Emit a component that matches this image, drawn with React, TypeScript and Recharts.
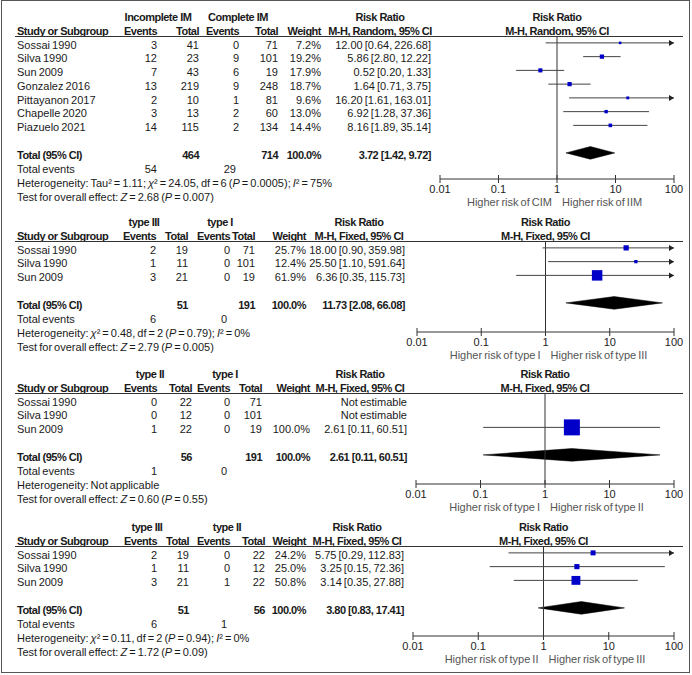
import React from 'react';
import { ComposedChart, XAxis, YAxis, Line, Scatter, Area, ReferenceLine } from 'recharts';

// ── Panel 1: incomplete vs complete IM (random effects) ─────────────────────
const STUDIES_1 = ['Sossai 1990', 'Silva 1990', 'Sun 2009', 'Gonzalez 2016', 'Pittayanon 2017', 'Chapelle 2020', 'Piazuelo 2021'];
const EVENTS_A_1 = [3, 12, 7, 13, 2, 3, 14];
const TOTAL_A_1 = [41, 23, 43, 219, 10, 13, 115];
const EVENTS_B_1 = [0, 9, 6, 9, 1, 2, 2];
const TOTAL_B_1 = [71, 101, 19, 248, 81, 60, 134];
const WEIGHT_1 = [7.2, 19.2, 17.9, 18.7, 9.6, 13.0, 14.4];
const RR_1 = [12.0, 5.86, 0.52, 1.64, 16.2, 6.92, 8.16];
const LO_1 = [0.64, 2.8, 0.2, 0.71, 1.61, 1.28, 1.89];
const HI_1 = [226.68, 12.22, 1.33, 3.75, 163.01, 37.36, 35.14];
const POOLED_1 = [3.72, 1.42, 9.72]; // rr, lo, hi
const SUMS_1 = [464, 714, 54, 29]; // totalA, totalB, eventsA, eventsB

// ── Panel 2: type III vs type I ─────────────────────────────────────────────
const STUDIES_2 = ['Sossai 1990', 'Silva 1990', 'Sun 2009'];
const EVENTS_A_2 = [2, 1, 3];
const TOTAL_A_2 = [19, 11, 21];
const EVENTS_B_2 = [0, 0, 0];
const TOTAL_B_2 = [71, 101, 19];
const WEIGHT_2 = [25.7, 12.4, 61.9];
const RR_2 = [18.0, 25.5, 6.36];
const LO_2 = [0.9, 1.1, 0.35];
const HI_2 = [359.98, 591.64, 115.73];
const POOLED_2 = [11.73, 2.08, 66.08];
const SUMS_2 = [51, 191, 6, 0];

// ── Panel 3: type II vs type I ──────────────────────────────────────────────
const STUDIES_3 = ['Sossai 1990', 'Silva 1990', 'Sun 2009'];
const EVENTS_A_3 = [0, 0, 1];
const TOTAL_A_3 = [22, 12, 22];
const EVENTS_B_3 = [0, 0, 0];
const TOTAL_B_3 = [71, 101, 19];
const WEIGHT_3 = [null, null, 100.0];
const RR_3 = [null, null, 2.61];
const LO_3 = [null, null, 0.11];
const HI_3 = [null, null, 60.51];
const POOLED_3 = [2.61, 0.11, 60.51];
const SUMS_3 = [56, 191, 1, 0];

// ── Panel 4: type III vs type II ────────────────────────────────────────────
const STUDIES_4 = ['Sossai 1990', 'Silva 1990', 'Sun 2009'];
const EVENTS_A_4 = [2, 1, 3];
const TOTAL_A_4 = [19, 11, 21];
const EVENTS_B_4 = [0, 0, 1];
const TOTAL_B_4 = [22, 12, 22];
const WEIGHT_4 = [24.2, 25.0, 50.8];
const RR_4 = [5.75, 3.25, 3.14];
const LO_4 = [0.29, 0.15, 0.35];
const HI_4 = [112.83, 72.36, 27.88];
const POOLED_4 = [3.8, 0.83, 17.41];
const SUMS_4 = [51, 56, 6, 1];

const TICKS = [0.01, 0.1, 1, 10, 100];
const TICK_LABELS = ['0.01', '0.1', '1', '10', '100'];

const GROUPS = [
  ['Incomplete IM', 'Complete IM'],
  ['type III', 'type I'],
  ['type II', 'type I'],
  ['type III', 'type II'],
];
const METHODS = ['M-H, Random, 95% CI', 'M-H, Fixed, 95% CI', 'M-H, Fixed, 95% CI', 'M-H, Fixed, 95% CI'];
const FAVOURS = [
  ['Higher risk of CIM', 'Higher risk of IIM'],
  ['Higher risk of type I', 'Higher risk of type III'],
  ['Higher risk of type I', 'Higher risk of type II'],
  ['Higher risk of type II', 'Higher risk of type III'],
];

const italic = (s: string) => <i>{s}</i>;
const HETERO = [
  <>Heterogeneity: Tau² = 1.11; {italic('χ')}² = 24.05, df = 6 ({italic('P')} = 0.0005); {italic('I')}² = 75%</>,
  <>Heterogeneity: {italic('χ')}² = 0.48, df = 2 ({italic('P')} = 0.79); {italic('I')}² = 0%</>,
  <>Heterogeneity: Not applicable</>,
  <>Heterogeneity: {italic('χ')}² = 0.11, df = 2 ({italic('P')} = 0.94); {italic('I')}² = 0%</>,
];
const OVERALL = [
  <>Test for overall effect: {italic('Z')} = 2.68 ({italic('P')} = 0.007)</>,
  <>Test for overall effect: {italic('Z')} = 2.79 ({italic('P')} = 0.005)</>,
  <>Test for overall effect: {italic('Z')} = 0.60 ({italic('P')} = 0.55)</>,
  <>Test for overall effect: {italic('Z')} = 1.72 ({italic('P')} = 0.09)</>,
];

const PANELS = [
  { studies: STUDIES_1, ea: EVENTS_A_1, ta: TOTAL_A_1, eb: EVENTS_B_1, tb: TOTAL_B_1, w: WEIGHT_1, rr: RR_1, lo: LO_1, hi: HI_1, pooled: POOLED_1, sums: SUMS_1 },
  { studies: STUDIES_2, ea: EVENTS_A_2, ta: TOTAL_A_2, eb: EVENTS_B_2, tb: TOTAL_B_2, w: WEIGHT_2, rr: RR_2, lo: LO_2, hi: HI_2, pooled: POOLED_2, sums: SUMS_2 },
  { studies: STUDIES_3, ea: EVENTS_A_3, ta: TOTAL_A_3, eb: EVENTS_B_3, tb: TOTAL_B_3, w: WEIGHT_3, rr: RR_3, lo: LO_3, hi: HI_3, pooled: POOLED_3, sums: SUMS_3 },
  { studies: STUDIES_4, ea: EVENTS_A_4, ta: TOTAL_A_4, eb: EVENTS_B_4, tb: TOTAL_B_4, w: WEIGHT_4, rr: RR_4, lo: LO_4, hi: HI_4, pooled: POOLED_4, sums: SUMS_4 },
];

// layout (pixels) per panel
const LAYOUT = [
  { lineY: 36, axisY: 179, x0: 440, cols: [157, 199, 239, 278, 321, 431], grp: [158, 238], rrC: 380 },
  { lineY: 241, axisY: 332, x0: 417, cols: [156, 188, 230, 255, 306, 405], grp: [144, 220], rrC: 359 },
  { lineY: 393, axisY: 484, x0: 416, cols: [157, 192, 230, 262, 310, 407], grp: [150, 225], rrC: 360 },
  { lineY: 546, axisY: 636, x0: 413, cols: [157, 189, 230, 265, 306, 404], grp: [147, 227], rrC: 357 },
];

const W = 692;
const H = 675;
const ROW_H = 13.75;
const CHART_LEFT = 400;
const X100 = 674;
const FONT = '"Liberation Sans", Arial, sans-serif';
const TEXT = '#1a1a1a';

const fmtCI = (r: number, l: number, h: number) => `${r.toFixed(2)} [${l.toFixed(2)}, ${h.toFixed(2)}]`;

function Txt({ x, y, align = 'left', bold, color = TEXT, children }: any) {
  const style: React.CSSProperties = {
    position: 'absolute', top: y - 7, lineHeight: '14px', fontSize: 11,
    whiteSpace: 'nowrap', fontWeight: bold ? 'bold' : 'normal', color,
    letterSpacing: bold ? -0.5 : 0, wordSpacing: bold ? 0 : -1,
  };
  if (align === 'left') style.left = x;
  else if (align === 'right') style.right = W - x;
  else { style.left = x - 150; style.width = 300; style.textAlign = 'center'; }
  return <div style={style}>{children}</div>;
}

function LogTick(props: any) {
  const { x, y, payload } = props;
  const i = TICKS.findIndex((t) => Math.abs(Math.log10(t) - Math.log10(payload.value)) < 1e-6);
  return (
    <g>
      <line x1={x} x2={x} y1={y - 4} y2={y + 4} stroke="#333" />
      <text x={x} y={y + 14} textAnchor="middle" fontSize={11} fontFamily={FONT} fill="#222">
        {TICK_LABELS[i]}
      </text>
    </g>
  );
}

function Arrow(props: any) {
  const { cx, cy, payload, index } = props;
  if (!payload || !payload.clip || cx == null) return <g key={index} />;
  const d = payload.clip;
  return <polygon key={index} points={`${cx},${cy} ${cx - 5 * d},${cy - 3} ${cx - 5 * d},${cy + 3}`} fill="#222" />;
}

function Square(props: any) {
  const { cx, cy, payload } = props;
  const s = 1.5 + (14.5 * payload.w) / 100;
  return <rect x={cx - s / 2} y={cy - s / 2} width={s} height={s} fill="#0000c8" />;
}

function Panel({ k }: { k: number }) {
  const d = PANELS[k];
  const L = LAYOUT[k];
  const n = d.studies.length;
  const plotH = L.axisY - L.lineY;
  const yMax = plotH / ROW_H;
  const plotC = (L.x0 + X100) / 2;
  const rowY = (pos: number) => L.lineY + pos * ROW_H;
  const totPos = n + 1.5;
  const totY = rowY(totPos) + 2.5;
  const [cEA, cTA, cEB, cTB, cW, cCI] = L.cols;

  const ciLines = d.studies
    .map((_, i) => {
      const lo = d.lo[i];
      const hi = d.hi[i];
      if (lo == null || hi == null) return null;
      return [
        { x: Math.max(lo, 0.01), y: i + 0.5, clip: lo < 0.01 ? -1 : 0 },
        { x: Math.min(hi, 100), y: i + 0.5, clip: hi > 100 ? 1 : 0 },
      ];
    });
  const squares = d.studies
    .map((_, i) => (d.rr[i] == null ? null : { x: d.rr[i], y: i + 0.5, w: d.w[i] }))
    .filter(Boolean);
  const [pr, pl, ph] = d.pooled;
  const half = 0.46;
  const diamond = [
    { x: pl, band: [totPos, totPos] },
    { x: pr, band: [totPos - half, totPos + half] },
    { x: ph, band: [totPos, totPos] },
  ];

  const hy1 = L.lineY - 19;
  const hy2 = L.lineY - 5;

  return (
    <>
      {/* header */}
      <Txt x={L.grp[0]} y={hy1} align="center" bold>{GROUPS[k][0]}</Txt>
      <Txt x={L.grp[1]} y={hy1} align="center" bold>{GROUPS[k][1]}</Txt>
      <Txt x={L.rrC} y={hy1} align="center" bold>Risk Ratio</Txt>
      <Txt x={plotC} y={hy1} align="center" bold>Risk Ratio</Txt>
      <Txt x={17} y={hy2} bold>Study or Subgroup</Txt>
      <Txt x={cEA} y={hy2} align="right" bold>Events</Txt>
      <Txt x={cTA} y={hy2} align="right" bold>Total</Txt>
      <Txt x={cEB} y={hy2} align="right" bold>Events</Txt>
      <Txt x={cTB} y={hy2} align="right" bold>Total</Txt>
      <Txt x={cW} y={hy2} align="right" bold>Weight</Txt>
      <Txt x={L.rrC} y={hy2} align="center" bold>{METHODS[k]}</Txt>
      <Txt x={plotC} y={hy2} align="center" bold>{METHODS[k]}</Txt>
      <div style={{ position: 'absolute', left: 15, top: L.lineY, width: 683 - 15, height: 1, background: '#333' }} />

      {/* study rows */}
      {d.studies.map((s, i) => {
        const y = rowY(i + 0.5) + 1.8;
        const rr = d.rr[i];
        return (
          <React.Fragment key={s}>
            <Txt x={17} y={y}>{s}</Txt>
            <Txt x={cEA} y={y} align="right">{d.ea[i]}</Txt>
            <Txt x={cTA} y={y} align="right">{d.ta[i]}</Txt>
            <Txt x={cEB} y={y} align="right">{d.eb[i]}</Txt>
            <Txt x={cTB} y={y} align="right">{d.tb[i]}</Txt>
            {d.w[i] != null && <Txt x={cW} y={y} align="right">{`${(d.w[i] as number).toFixed(1)}%`}</Txt>}
            <Txt x={cCI} y={y} align="right">
              {rr == null ? 'Not estimable' : fmtCI(rr, d.lo[i] as number, d.hi[i] as number)}
            </Txt>
          </React.Fragment>
        );
      })}

      {/* totals */}
      <Txt x={17} y={totY} bold>Total (95% CI)</Txt>
      <Txt x={cTA} y={totY} align="right" bold>{d.sums[0]}</Txt>
      <Txt x={cTB} y={totY} align="right" bold>{d.sums[1]}</Txt>
      <Txt x={cW} y={totY} align="right" bold>100.0%</Txt>
      <Txt x={cCI} y={totY} align="right" bold>{fmtCI(pr, pl, ph)}</Txt>
      <Txt x={17} y={totY + 14}>Total events</Txt>
      <Txt x={cEA} y={totY + 14} align="right">{d.sums[2]}</Txt>
      <Txt x={cEB - 3} y={totY + 14} align="right">{d.sums[3]}</Txt>
      <Txt x={17} y={totY + 28}>{HETERO[k]}</Txt>
      <Txt x={17} y={totY + 42}>{OVERALL[k]}</Txt>

      {/* favours labels */}
      <Txt x={plotC - 5} y={L.axisY + 23} align="right" color="#555">{FAVOURS[k][0]}</Txt>
      <Txt x={plotC + 5} y={L.axisY + 23} color="#555">{FAVOURS[k][1]}</Txt>

      <div style={{ position: 'absolute', left: CHART_LEFT, top: L.lineY }}>
        <ComposedChart
          width={W - CHART_LEFT}
          height={plotH + 30}
          margin={{ top: 0, right: W - X100, left: L.x0 - CHART_LEFT, bottom: 0 }}
        >
          <XAxis
            type="number"
            dataKey="x"
            scale="log"
            domain={[0.01, 100]}
            allowDataOverflow
            ticks={TICKS}
            interval={0}
            tick={<LogTick />}
            tickLine={false}
            tickSize={0}
            tickMargin={0}
            axisLine={{ stroke: '#333' }}
            height={30}
          />
          <YAxis type="number" dataKey="y" domain={[0, yMax]} reversed hide allowDataOverflow />
          <ReferenceLine x={1} stroke="#333" />
          {ciLines.map((pts, i) =>
            pts ? (
              <Line
                key={`ci${i}`}
                data={pts}
                dataKey="y"
                type="linear"
                stroke="#444"
                strokeWidth={1}
                dot={<Arrow />}
                activeDot={false}
                isAnimationActive={false}
              />
            ) : null,
          )}
          <Area
            data={diamond}
            dataKey="band"
            type="linear"
            stroke="#000"
            strokeWidth={0.5}
            fill="#000"
            fillOpacity={1}
            dot={false}
            activeDot={false}
            isAnimationActive={false}
          />
          <Scatter data={squares as any[]} dataKey="y" shape={<Square />} isAnimationActive={false} />
        </ComposedChart>
      </div>
    </>
  );
}

export default function App() {
  return (
    <div
      style={{
        position: 'absolute', left: 0, top: 0, width: W, height: H,
        background: '#fff', fontFamily: FONT, overflow: 'hidden',
      }}
    >
      <div
        style={{
          position: 'absolute', left: 1, top: 0, width: 689, height: 673,
          border: '1px solid #555', boxSizing: 'border-box',
        }}
      />
      {PANELS.map((_, k) => (
        <Panel key={k} k={k} />
      ))}
    </div>
  );
}
